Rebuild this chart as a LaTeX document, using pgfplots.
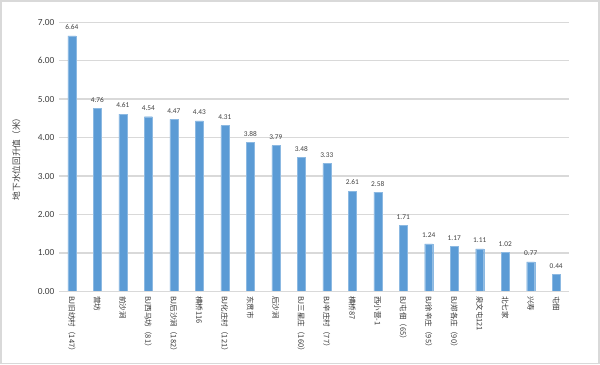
\documentclass[border=0pt]{standalone}
\usepackage{fontspec}
\setmainfont{Carlito}
\newfontfamily\cjk{Noto Sans CJK SC}
\usepackage{pgfplots}
\pgfplotsset{compat=1.18}
\definecolor{barblue}{HTML}{5B9BD5}
\definecolor{gridgray}{HTML}{D9D9D9}
\definecolor{txt}{HTML}{404040}
\begin{document}
\begin{tikzpicture}
\begin{axis}[
  name=ax,
  scale only axis,
  width=381.75pt, height=201.75pt,
  xmin=-0.5, xmax=19.5,
  ymin=0, ymax=7,
  ytick={0,1,2,3,4,5,6,7},
  xtick={0,...,19},
  xticklabels={BJ旧纺村（147）,营坊,前沙涧,BJ西马坊（81）,BJ后沙涧（182）,横桥116,BJ化庄村（121）,东贯市,后沙涧,BJ三星庄（160）,BJ辛庄村（77）,横桥87,西小营-1,BJ屯佃（65）,BJ徐辛庄（95）,BJ郑各庄（90）,泉文屯121,北七家,兴寿,屯佃},
  xticklabel style={rotate=-90, anchor=west, font=\cjk\fontsize{5.6}{6}\selectfont, text=black!80},
  major tick length=0pt,
  axis line style={draw=none},
  ymajorgrids, grid style={gridgray, line width=0.8pt},
  yticklabel style={font=\fontsize{7}{8}\selectfont, text=txt},
  /pgf/number format/assume math mode=true,
  yticklabel={\pgfmathprintnumber[fixed, fixed zerofill, precision=2]{\tick}},
  ylabel={\cjk 地下水位回升值（米）},
  ylabel style={at={([xshift=-32pt]axis description cs:0,0.5)}, anchor=center, font=\fontsize{6.5}{7}\selectfont, text=txt},
  nodes near coords,
  nodes near coords style={font=\fontsize{5.5}{6}\selectfont, text=txt, yshift=1pt, /pgf/number format/fixed, /pgf/number format/fixed zerofill, /pgf/number format/precision=2},
  clip=false,
]
\addplot[ybar, bar width=6pt, fill=barblue, draw=barblue!70!white, line width=0.3pt] coordinates {
(0,6.64) (1,4.76) (2,4.61) (3,4.54) (4,4.47) (5,4.43) (6,4.31) (7,3.88) (8,3.79) (9,3.48)
(10,3.33) (11,2.61) (12,2.58) (13,1.71) (14,1.24) (15,1.17) (16,1.11) (17,1.02) (18,0.77) (19,0.44)
};
\draw[gridgray, line width=0.8pt] (rel axis cs:0,0) -- (rel axis cs:1,0);
\end{axis}
\path[use as bounding box] ([shift={(-44.25pt,-54.75pt)}]ax.south west) rectangle ([shift={(23.25pt,16.5pt)}]ax.north east);
\draw[gridgray, line width=0.8pt] ([shift={(-43.5pt,-54pt)}]ax.south west) rectangle ([shift={(22.5pt,15.75pt)}]ax.north east);
\end{tikzpicture}
\end{document}
